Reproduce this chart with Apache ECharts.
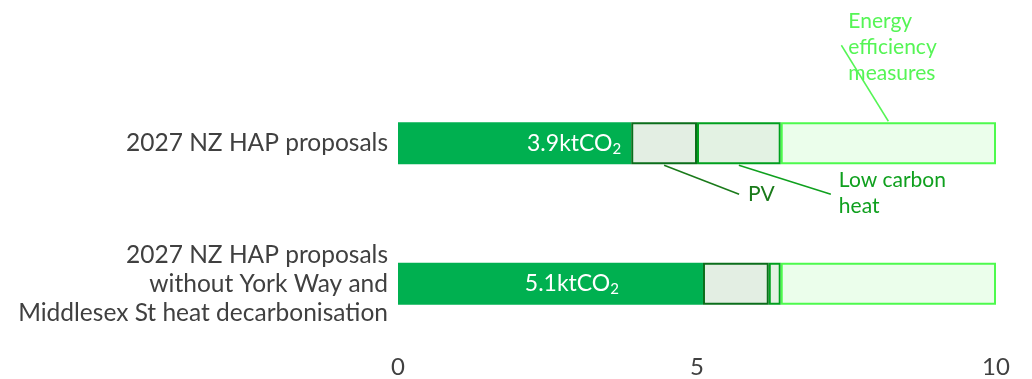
<!DOCTYPE html>
<html>
<head>
<meta charset="utf-8">
<script src="https://cdn.jsdelivr.net/npm/echarts@6/dist/echarts.min.js"></script>
<style>
  html, body { margin: 0; padding: 0; background: #fff; }
  #chart { width: 1032px; height: 379px; }
</style>
</head>
<body>
<div id="chart"></div>
<script>
// categories (top to bottom)
const categories = [
  '2027 NZ HAP proposals',
  '2027 NZ HAP proposals\nwithout York Way and\nMiddlesex St heat decarbonisation'
];
// ktCO2 per component
const residual = [3.9, 5.1];
const pv = [1.1, 1.1];
const lowCarbonHeat = [1.4, 0.2];
const energyEfficiency = [3.6, 3.6];
const residualLabels = ['3.9', '5.1'];
const xTicks = { min: 0, max: 10, interval: 5 };

const FONT = 'Lato';
const chart = echarts.init(document.getElementById('chart'));

// label distance from the bar end for each row
const labelDist = [10, 84];

const option = {
  animation: false,
  grid: { left: 398, right: 36, top: 73, bottom: 20 },
  xAxis: {
    type: 'value',
    min: xTicks.min, max: xTicks.max, interval: xTicks.interval,
    axisLine: { show: false },
    axisTick: { show: false },
    splitLine: { show: false },
    axisLabel: { fontFamily: FONT, fontSize: 24, color: '#404040', margin: 1 }
  },
  yAxis: {
    type: 'category',
    inverse: true,
    data: categories,
    axisLine: { show: false },
    axisTick: { show: false },
    axisLabel: {
      fontFamily: FONT, fontSize: 24.5, color: '#404040',
      margin: 10, lineHeight: 29, align: 'right'
    }
  },
  series: [
    {
      name: 'Residual', type: 'bar', stack: 'total', barWidth: 42,
      itemStyle: { color: '#00B050' },
      data: residual.map((v, i) => ({
        value: v,
        label: {
          show: true, position: 'insideRight', distance: labelDist[i],
          formatter: '{a|' + residualLabels[i] + 'ktCO}{s|2}',
          rich: {
            a: { fontFamily: FONT, fontSize: 23, color: '#fff' },
            s: { fontFamily: FONT, fontSize: 15, color: '#fff', padding: [11, 0, 0, 0] }
          }
        }
      }))
    },
    {
      name: 'PV', type: 'bar', stack: 'total', barWidth: 42,
      itemStyle: { color: '#E3EEE3', borderColor: '#0B6E1B', borderWidth: 2 },
      data: pv
    },
    {
      name: 'Low carbon heat', type: 'bar', stack: 'total', barWidth: 42,
      itemStyle: { color: '#E3F2E3', borderColor: '#00A01E', borderWidth: 2 },
      data: lowCarbonHeat
    },
    {
      name: 'Energy efficiency measures', type: 'bar', stack: 'total', barWidth: 42,
      itemStyle: { color: '#EBFEEB', borderColor: '#4DFA4D', borderWidth: 2 },
      data: energyEfficiency
    }
  ]
};
chart.setOption(option);

// leader lines and annotation text, anchored on the first row's segments
function annotate() {
  const row = categories[0];
  const half = 21;
  const mid = (a, b) => chart.convertToPixel({ gridIndex: 0 }, [(a + b) / 2, row]);
  const s0 = residual[0];
  const s1 = s0 + pv[0];
  const s2 = s1 + lowCarbonHeat[0];
  const s3 = s2 + energyEfficiency[0];
  const pPV = mid(s0, s1);
  const pLC = mid(s1, s2);
  const pEE = mid(s2, s3);
  const txt = (x, y, text, color) => ({
    type: 'text', x: x, y: y,
    style: { text: text, fontFamily: FONT, fontSize: 21, lineHeight: 26, fill: color, textVerticalAlign: 'top' }
  });
  const line = (x1, y1, x2, y2, color) => ({
    type: 'line', shape: { x1, y1, x2, y2 }, style: { stroke: color, lineWidth: 1.5 }
  });
  chart.setOption({
    graphic: [
      line(pPV[0], pPV[1] + half + 1, pPV[0] + 75, pPV[1] + half + 30, '#1A7A1A'),
      txt(pPV[0] + 84, pPV[1] + half + 17, 'PV', '#1A7A1A'),
      line(pLC[0], pLC[1] + half + 1, pLC[0] + 92, pLC[1] + half + 30, '#0FA01E'),
      txt(pLC[0] + 100, pLC[1] + half + 3, 'Low carbon\nheat', '#0FA01E'),
      line(pEE[0], pEE[1] - half - 1, pEE[0] - 47, pEE[1] - half - 77, '#55F555'),
      txt(pEE[0] - 40, 8, 'Energy\nefficiency\nmeasures', '#55F555')
    ]
  });
}
annotate();
</script>
</body>
</html>
